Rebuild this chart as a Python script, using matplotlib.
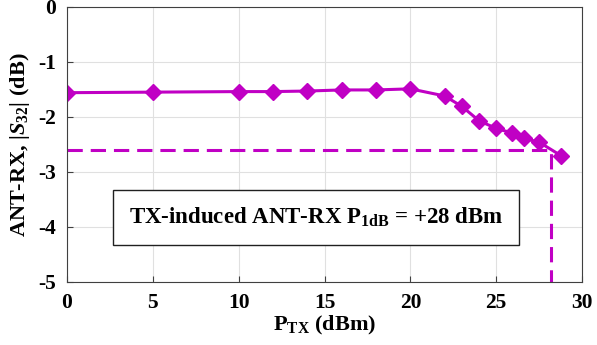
import matplotlib
matplotlib.use('Agg')
import matplotlib.pyplot as plt

plt.rcParams['font.family'] = 'Liberation Serif'
plt.rcParams['font.weight'] = 'bold'
plt.rcParams['axes.unicode_minus'] = False
plt.rcParams['mathtext.fontset'] = 'custom'
plt.rcParams['mathtext.rm'] = 'Liberation Serif:bold'
plt.rcParams['mathtext.bf'] = 'Liberation Serif:bold'
plt.rcParams['mathtext.it'] = 'Liberation Serif:italic:bold'

# measured S32 vs TX power
p_tx = [0, 5, 10, 12, 14, 16, 18, 20, 22, 23, 24, 25, 25.9, 26.6, 27.5, 28.8]
s32 = [-1.56, -1.55, -1.54, -1.54, -1.53, -1.51, -1.51, -1.49,
       -1.62, -1.81, -2.07, -2.21, -2.29, -2.39, -2.46, -2.71]

p1db_x = 28.2
p1db_y = -2.6
magenta = '#C000C4'

fig = plt.figure(figsize=(5.97, 3.45), dpi=100)
ax = fig.add_axes([0.1122, 0.183, 0.8628, 0.797])

ax.plot(p_tx, s32, color=magenta, linewidth=2.2, marker='D', markersize=8.5)
ax.plot([0, p1db_x, p1db_x], [p1db_y, p1db_y, -5], color=magenta,
        linewidth=2.2, linestyle=(0, (5, 2.6)))

ax.set_xlim(0, 30)
ax.set_ylim(-5, 0)
ax.set_xticks([0, 5, 10, 15, 20, 25, 30])
ax.set_yticks([0, -1, -2, -3, -4, -5])
ax.grid(True, color='#e0e0e0', linewidth=0.8)
ax.tick_params(direction='in', labelsize=15.5, length=4, color='#404040')
ax.tick_params(axis='x', pad=8)
ax.tick_params(axis='y', pad=8)
for s in ax.spines.values():
    s.set_color('#404040')

ax.set_xlabel(r'P$_{\mathrm{TX}}$ (dBm)', fontsize=16, fontweight='bold', labelpad=1)
ax.set_ylabel(r'ANT-RX, $|\mathit{S}_{32}|$ (dB)', fontsize=16, fontweight='bold', labelpad=4)

ax.text(14.5, -3.83, r'TX-induced ANT-RX P$_{\mathrm{1dB}}$ = +28 dBm',
        fontsize=16.5, fontweight='bold', ha='center', va='center',
        bbox=dict(boxstyle='square,pad=0.7', facecolor='white', edgecolor='#202020', linewidth=1))

fig.savefig('out.png', dpi=100)
